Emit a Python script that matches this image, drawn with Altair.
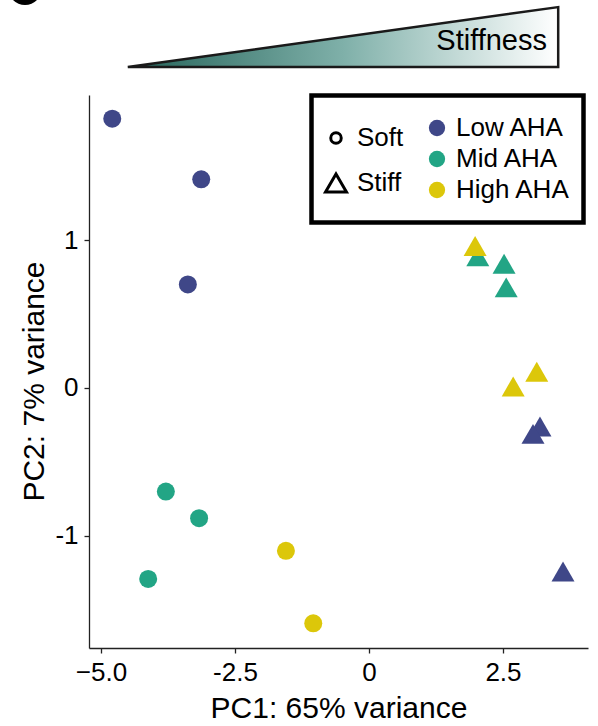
import altair as alt
import pandas as pd

# ---- data ----
pc1 = [-4.79, -3.13, -3.38, 3.19, 3.06, 3.62,
       -3.79, -3.17, -4.12, 2.03, 2.52, 2.56,
       -1.55, -1.04, 1.98, 2.69, 3.13]
pc2 = [1.82, 1.41, 0.70, -0.26, -0.31, -1.24,
       -0.70, -0.88, -1.29, 0.89, 0.84, 0.68,
       -1.10, -1.59, 0.96, 0.01, 0.11]
aha = ["Low AHA"] * 6 + ["Mid AHA"] * 6 + ["High AHA"] * 5
stiffness = ["Soft", "Soft", "Soft", "Stiff", "Stiff", "Stiff",
             "Soft", "Soft", "Soft", "Stiff", "Stiff", "Stiff",
             "Soft", "Soft", "Stiff", "Stiff", "Stiff"]

aha_levels = ["Low AHA", "Mid AHA", "High AHA"]
aha_colors = ["#3f4788", "#22a585", "#dcc70a"]
stiff_levels = ["Soft", "Stiff"]

x_ticks = [-5.0, -2.5, 0.0, 2.5]
x_tick_labels = ["\u22125.0", "-2.5", "0", "2.5"]
y_ticks = [-1, 0, 1]
y_tick_labels = ["-1", "0", "1"]

x_domain = [-5.224, 4.086]
y_domain = [-1.757, 1.98]

# stiffness wedge (decoration above the plot)
wedge_x = [-4.50, 3.53]
wedge_top = [2.169, 2.574]
wedge_base = [2.169, 2.169]

FONT = "Liberation Sans"
TRI = "M0,-1.73L2,1.73L-2,1.73Z"

df = pd.DataFrame({"pc1": pc1, "pc2": pc2, "aha": aha, "stiffness": stiffness})
wedge_df = pd.DataFrame({"pc1": wedge_x, "pc2": wedge_top, "base": wedge_base})
one = pd.DataFrame({"a": [0]})


def label_expr(vals, labels):
    parts = [f"datum.value == {v} ? '{l}'" for v, l in zip(vals, labels)]
    return " : ".join(parts) + " : ''"


xscale = alt.Scale(domain=x_domain, nice=False, zero=False)
yscale = alt.Scale(domain=y_domain, nice=False, zero=False)
xaxis = alt.Axis(values=x_ticks, labelExpr=label_expr(x_ticks, x_tick_labels),
                 title="PC1: 65% variance", titlePadding=8, labelPadding=6)
yaxis = alt.Axis(values=y_ticks, labelExpr=label_expr(y_ticks, y_tick_labels),
                 title="PC2: 7% variance", titlePadding=5, labelPadding=6, titleY=286)

points = alt.Chart(df).mark_point(filled=True, opacity=1, strokeWidth=0).encode(
    x=alt.X("pc1:Q", scale=xscale, axis=xaxis),
    y=alt.Y("pc2:Q", scale=yscale, axis=yaxis),
    color=alt.Color("aha:N", scale=alt.Scale(domain=aha_levels, range=aha_colors),
                    legend=alt.Legend(orient="none", legendX=335, legendY=20, title=None,
                                      padding=0, labelFont=FONT, labelFontSize=26,
                                      labelColor="black", symbolType="circle",
                                      symbolSize=266, symbolStrokeWidth=0,
                                      rowPadding=5, labelOffset=6)),
    shape=alt.Shape("stiffness:N", scale=alt.Scale(domain=stiff_levels, range=["circle", TRI]),
                    legend=alt.Legend(orient="none", legendX=234, legendY=30, title=None,
                                      padding=0, labelFont=FONT, labelFontSize=26,
                                      labelColor="black", symbolSize=110,
                                      symbolFillColor="white", symbolStrokeColor="black",
                                      symbolStrokeWidth=3, rowPadding=16, labelOffset=8)),
    size=alt.condition(alt.datum.stiffness == "Soft", alt.value(324), alt.value(132)),
)

gradient = alt.LinearGradient(
    gradient="linear",
    stops=[alt.GradientStop(offset=0, color="#246359"),
           alt.GradientStop(offset=0.5, color="#7fb0a9"),
           alt.GradientStop(offset=1, color="#ffffff")],
    x1=0, x2=1, y1=0, y2=0,
)

wedge = alt.Chart(wedge_df).mark_area(color=gradient, stroke="#1a1a1a", strokeWidth=2.5).encode(
    x=alt.X("pc1:Q", scale=xscale, axis=xaxis),
    y=alt.Y("pc2:Q", scale=yscale, axis=yaxis),
    y2="base:Q",
)

stiff_text = alt.Chart(one).mark_text(text="Stiffness", font=FONT, fontSize=29, color="black",
                                      align="right", baseline="alphabetic").encode(
    x=alt.value(458), y=alt.value(-45))

blob = alt.Chart(one).mark_circle(color="black", size=1156, opacity=1).encode(
    x=alt.value(-64), y=alt.value(-107))

legend_box = alt.Chart(one).mark_rect(fill="white", stroke="black", strokeWidth=4.5).encode(
    x=alt.value(222.5), x2=alt.value(494.5), y=alt.value(0.5), y2=alt.value(127.5))

chart = alt.layer(legend_box, wedge, stiff_text, blob, points).properties(
    width=499, height=553,
    autosize=alt.AutoSizeParams(type="none"),
    padding={"left": 89, "top": 95, "right": 10, "bottom": 78},
).configure_view(stroke=None).configure_axis(
    grid=False, domainColor="#222222", domainWidth=1.3, tickColor="#222222",
    tickWidth=1.3, tickSize=5, labelFont=FONT, labelFontSize=26, labelColor="black",
    titleFont=FONT, titleFontSize=30, titleColor="black", titleFontWeight="normal",
)

chart.save("out.html", embed_options={"renderer": "svg", "actions": False})
